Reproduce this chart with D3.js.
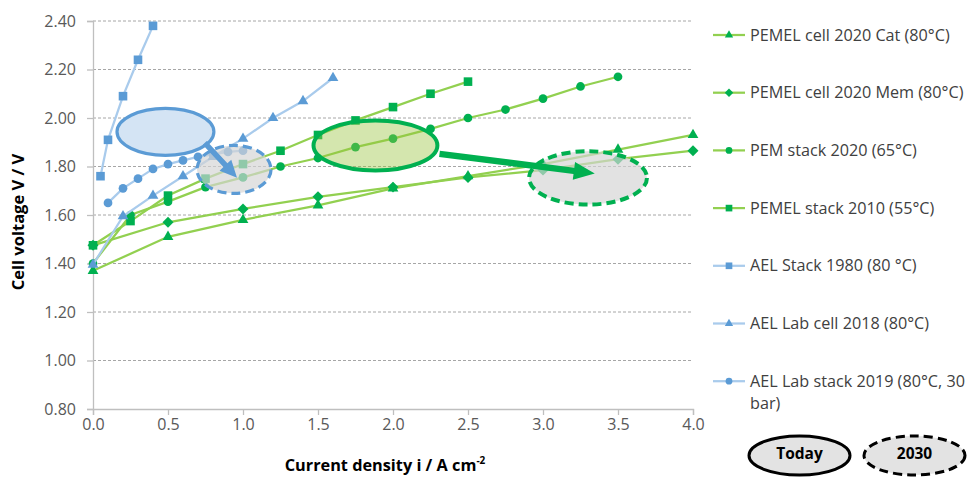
<!DOCTYPE html>
<html>
<head>
<meta charset="utf-8">
<script src="https://cdn.jsdelivr.net/npm/d3@7"></script>
<style>
  body { margin: 0; background: #fff; }
  svg { display: block; }
  text { font-family: "Open Sans", "Noto Sans", sans-serif; }
</style>
</head>
<body>
<div id="chart"></div>
<script>
// ------------------------------------------------------------
// Polarisation curves, PEM vs. alkaline electrolysis
// ------------------------------------------------------------

// series values (current density A/cm2, cell voltage V)
const pemCellCatX = [0, 0.5, 1.0, 1.5, 2.0, 2.5, 3.0, 3.5, 4.0];
const pemCellCatY = [1.37, 1.51, 1.58, 1.64, 1.71, 1.76, 1.81, 1.87, 1.93];

const pemCellMemX = [0, 0.5, 1.0, 1.5, 2.0, 2.5, 3.0, 3.5, 4.0];
const pemCellMemY = [1.475, 1.57, 1.625, 1.675, 1.715, 1.755, 1.785, 1.83, 1.865];

const pemStack2020X = [0, 0.25, 0.5, 0.75, 1.0, 1.25, 1.5, 1.75, 2.0, 2.25, 2.5, 2.75, 3.0, 3.25, 3.5];
const pemStack2020Y = [1.40, 1.60, 1.655, 1.715, 1.755, 1.80, 1.835, 1.88, 1.915, 1.955, 2.00, 2.035, 2.08, 2.13, 2.17];

const pemStack2010X = [0, 0.25, 0.5, 0.75, 1.0, 1.25, 1.5, 1.75, 2.0, 2.25, 2.5];
const pemStack2010Y = [1.475, 1.575, 1.68, 1.75, 1.81, 1.865, 1.93, 1.99, 2.045, 2.10, 2.15];

const aelStack1980X = [0.05, 0.1, 0.2, 0.3, 0.4];
const aelStack1980Y = [1.76, 1.91, 2.09, 2.24, 2.38];

const aelLabCellX = [0, 0.2, 0.4, 0.6, 0.8, 1.0, 1.2, 1.4, 1.6];
const aelLabCellY = [1.395, 1.595, 1.68, 1.76, 1.84, 1.915, 2.00, 2.07, 2.165];

const aelLabStackX = [0.1, 0.2, 0.3, 0.4, 0.5, 0.6, 0.7, 0.8, 0.9, 1.0];
const aelLabStackY = [1.65, 1.71, 1.75, 1.79, 1.81, 1.825, 1.84, 1.85, 1.86, 1.865];

const seriesNames = [
    'PEMEL cell 2020 Cat (80°C)',
    'PEMEL cell 2020 Mem (80°C)',
    'PEM stack 2020 (65°C)',
    'PEMEL stack 2010 (55°C)',
    'AEL Stack 1980 (80 °C)',
    'AEL Lab cell 2018 (80°C)',
    'AEL Lab stack 2019 (80°C, 30 bar)'
];
const seriesShapes = ['triangle', 'diamond', 'circle', 'square', 'square', 'triangle', 'circle'];
const seriesKind = ['pem', 'pem', 'pem', 'pem', 'ael', 'ael', 'ael'];

// tick labels
const xTicks = [0, 0.5, 1.0, 1.5, 2.0, 2.5, 3.0, 3.5, 4.0];
const yTicks = [0.8, 1.0, 1.2, 1.4, 1.6, 1.8, 2.0, 2.2, 2.4];

// annotation ellipses (centre and radii in data units) and arrows
const ellipseCx = [0.483, 0.94, 1.883, 3.30];
const ellipseCy = [1.943, 1.788, 1.887, 1.753];
const ellipseRx = [0.323, 0.247, 0.413, 0.393];
const ellipseRy = [0.097, 0.099, 0.103, 0.110];
const ellipseKind = ['ael', 'ael', 'pem', 'pem'];
const ellipseDashed = [false, true, false, true];

const arrowFrom = [[0.745, 1.897], [2.31, 1.852]];
const arrowTo = [[0.96, 1.754], [3.345, 1.771]];
const arrowKind = ['ael', 'pem'];

const legendLabels = ['Today', '2030'];

// ------------------------------------------------------------
const width = 969, height = 478;
const colors = {
    pem: { line: '#92d050', mark: '#00b050' },
    ael: { line: '#a9cbec', mark: '#5b9bd5' }
};

const svg = d3.select('#chart')
    .append('svg')
    .attr('width', width)
    .attr('height', height);

const x = d3.scaleLinear().domain([0, 4]).range([93, 693]);
const y = d3.scaleLinear().domain([0.8, 2.4]).range([409, 21]);

// Grid
svg.append('g')
    .selectAll('line')
    .data(yTicks.slice(1))
    .join('line')
    .attr('x1', x(0)).attr('x2', x(4))
    .attr('y1', d => y(d)).attr('y2', d => y(d))
    .attr('stroke', '#a6a6a6')
    .attr('stroke-width', 1)
    .attr('stroke-dasharray', '3,2');

// Axes
const yAxis = svg.append('g')
    .attr('transform', `translate(${x(0)},0)`)
    .call(d3.axisLeft(y).tickValues(yTicks).tickSize(6).tickPadding(11).tickFormat(d3.format('.2f')));
const xAxis = svg.append('g')
    .attr('transform', `translate(0,${y(0.8)})`)
    .call(d3.axisBottom(x).tickValues(xTicks).tickSize(6).tickPadding(4).tickFormat(d3.format('.1f')));

[xAxis, yAxis].forEach(a => {
    a.select('.domain').attr('stroke', '#bfbfbf').attr('stroke-width', 1.3);
    a.selectAll('.tick line').attr('stroke', '#bfbfbf').attr('stroke-width', 1.3);
    a.selectAll('.tick text')
        .attr('fill', '#595959')
        .attr('font-size', '16px')
        .style('font-family', '"Open Sans", sans-serif');
});

// Axis titles
svg.append('text')
    .attr('x', 385)
    .attr('y', 471)
    .attr('text-anchor', 'middle')
    .attr('font-size', '16.3px')
    .attr('font-weight', 'bold')
    .attr('fill', '#000')
    .html('Current density i / A cm<tspan baseline-shift="super" font-size="10px">-2</tspan>');

svg.append('text')
    .attr('transform', `translate(24,222) rotate(-90)`)
    .attr('text-anchor', 'middle')
    .attr('font-size', '16.5px')
    .attr('font-weight', 'bold')
    .attr('fill', '#000')
    .text('Cell voltage V / V');

// Markers
function symbolFor(shape, scale) {
    const sizes = { triangle: 50, diamond: 60, circle: 60, square: 74 };
    const types = { triangle: d3.symbolTriangle, diamond: d3.symbolSquare, circle: d3.symbolCircle, square: d3.symbolSquare };
    return d3.symbol(types[shape], sizes[shape] * scale)();
}

// Series
const seriesX = [pemCellCatX, pemCellMemX, pemStack2020X, pemStack2010X, aelStack1980X, aelLabCellX, aelLabStackX];
const seriesY = [pemCellCatY, pemCellMemY, pemStack2020Y, pemStack2010Y, aelStack1980Y, aelLabCellY, aelLabStackY];

const series = seriesNames.map((name, i) => ({
    name,
    shape: seriesShapes[i],
    kind: seriesKind[i],
    points: seriesX[i].map((v, j) => ({ x: v, y: seriesY[i][j] }))
}));

const line = d3.line().x(d => x(d.x)).y(d => y(d.y));

const seriesG = svg.append('g')
    .selectAll('g')
    .data(series)
    .join('g');

seriesG.append('path')
    .attr('d', d => line(d.points))
    .attr('fill', 'none')
    .attr('stroke', d => colors[d.kind].line)
    .attr('stroke-width', 2.25);

seriesG.each(function(s) {
    d3.select(this).selectAll('path.mark')
        .data(s.points)
        .join('path')
        .attr('class', 'mark')
        .attr('d', symbolFor(s.shape, 1))
        .attr('fill', colors[s.kind].mark)
        .attr('transform', d => `translate(${x(d.x)},${y(d.y)})` + (s.shape === 'diamond' ? ' rotate(45)' : ''));
});

// Annotations
const ellipses = ellipseCx.map((cx, i) => ({
    cx, cy: ellipseCy[i], rx: ellipseRx[i], ry: ellipseRy[i],
    kind: ellipseKind[i], dashed: ellipseDashed[i]
}));

function fillFor(e) {
    if (e.dashed) return { fill: '#d4d4d4', op: 0.68 };
    if (e.kind === 'ael') return { fill: '#d4e4f4', op: 1 };
    return { fill: '#98c33d', op: 0.42 };
}

function arrowPath(p0, p1, shaft, headW, headL) {
    const dx = p1[0] - p0[0], dy = p1[1] - p0[1];
    const len = Math.hypot(dx, dy);
    const ux = dx / len, uy = dy / len, nx = -uy, ny = ux;
    const bx = p1[0] - ux * headL, by = p1[1] - uy * headL;
    const pts = [
        [p0[0] + nx * shaft / 2, p0[1] + ny * shaft / 2],
        [bx + nx * shaft / 2, by + ny * shaft / 2],
        [bx + nx * headW / 2, by + ny * headW / 2],
        p1,
        [bx - nx * headW / 2, by - ny * headW / 2],
        [bx - nx * shaft / 2, by - ny * shaft / 2],
        [p0[0] - nx * shaft / 2, p0[1] - ny * shaft / 2]
    ];
    return 'M' + pts.map(p => p.join(',')).join('L') + 'Z';
}

const annot = svg.append('g');

function drawEllipse(e) {
    const f = fillFor(e);
    annot.append('ellipse')
        .attr('cx', x(e.cx)).attr('cy', y(e.cy))
        .attr('rx', x(e.rx) - x(0)).attr('ry', y(0.8) - y(0.8 + e.ry))
        .attr('fill', f.fill).attr('fill-opacity', f.op)
        .attr('stroke', colors[e.kind].mark)
        .attr('stroke-width', e.kind === 'pem' ? 4 : 3.2)
        .attr('stroke-dasharray', e.dashed ? '9,5' : null);
}

function drawArrow(i) {
    const big = arrowKind[i] === 'pem';
    annot.append('path')
        .attr('d', arrowPath(
            [x(arrowFrom[i][0]), y(arrowFrom[i][1])],
            [x(arrowTo[i][0]), y(arrowTo[i][1])],
            big ? 6.5 : 5.5, big ? 18 : 16, big ? 21 : 17))
        .attr('fill', colors[arrowKind[i]].mark);
}

drawEllipse(ellipses[1]);
drawEllipse(ellipses[0]);
drawArrow(0);
drawEllipse(ellipses[3]);
drawEllipse(ellipses[2]);
drawArrow(1);

// Legend
const legend = svg.append('g')
    .selectAll('g')
    .data(series)
    .join('g')
    .attr('transform', (d, i) => `translate(713,${35 + i * 57.7})`);

legend.append('line')
    .attr('x1', 0).attr('x2', 32)
    .attr('stroke', d => colors[d.kind].line)
    .attr('stroke-width', 2.25);

legend.append('path')
    .attr('d', d => symbolFor(d.shape, 0.6))
    .attr('fill', d => colors[d.kind].mark)
    .attr('transform', d => 'translate(16,0)' + (d.shape === 'diamond' ? ' rotate(45)' : ''));

legend.append('text')
    .attr('x', 37)
    .attr('dy', '0.35em')
    .attr('font-size', '16.2px')
    .attr('fill', '#404040')
    .each(function(d, i) {
        const t = d3.select(this);
        if (i === series.length - 1) {
            t.append('tspan').attr('x', 37).text('AEL Lab stack 2019 (80°C, 30');
            t.append('tspan').attr('x', 37).attr('dy', '1.35em').text('bar)');
        } else {
            t.text(d.name);
        }
    });

// Today / 2030 key
const key = svg.append('g')
    .selectAll('g')
    .data(legendLabels)
    .join('g')
    .attr('transform', (d, i) => `translate(${799.5 + i * 115},455.5)`);

key.append('ellipse')
    .attr('rx', 50.5).attr('ry', 19.5)
    .attr('fill', '#e3e3e3')
    .attr('stroke', '#000')
    .attr('stroke-width', 3)
    .attr('stroke-dasharray', (d, i) => i === 1 ? '9,5' : null);

key.append('text')
    .attr('text-anchor', 'middle')
    .attr('dy', '0.35em')
    .attr('y', -2)
    .attr('font-size', '15.5px')
    .attr('font-weight', 'bold')
    .attr('fill', '#000')
    .text(d => d);
</script>
</body>
</html>
